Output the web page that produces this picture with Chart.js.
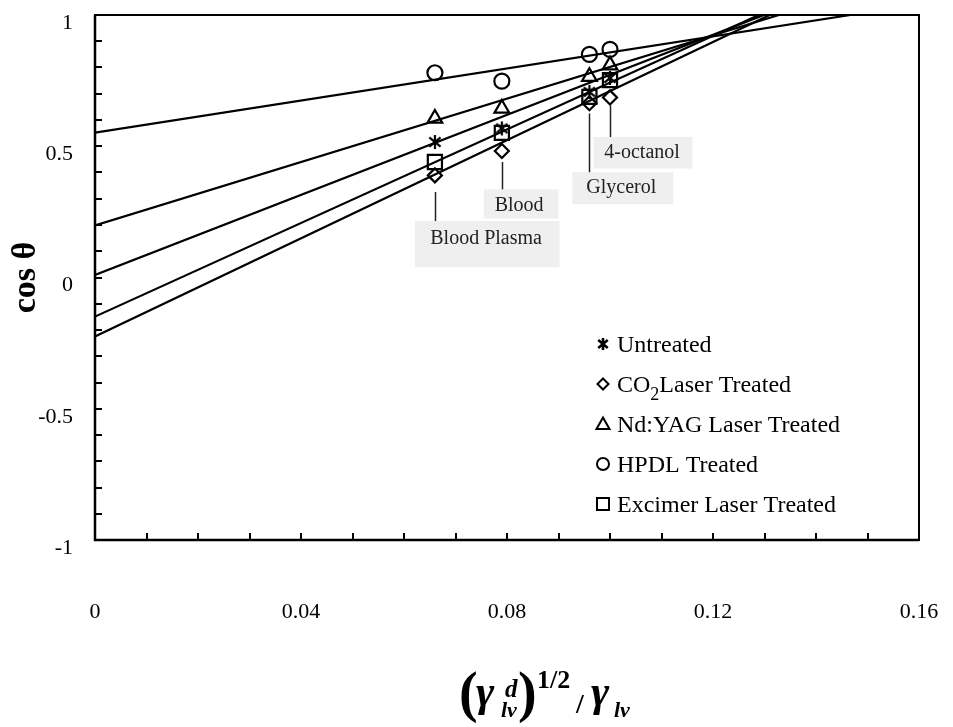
<!DOCTYPE html>
<html>
<head>
<meta charset="utf-8">
<script src="https://cdn.jsdelivr.net/npm/chart.js@4.4.0/dist/chart.umd.min.js"></script>
<style>
    html, body { margin: 0; padding: 0; background: #fff; }
    #wrap { position: relative; width: 953px; height: 727px; }
</style>
</head>
<body>
<div id="wrap"><canvas id="chart"></canvas></div>
<script>
// ── Datos ───────────────────────────────────────────────────────────────────

const liquids = ["Blood Plasma", "Blood", "Glycerol", "4-octanol"];
const liquidX = [0.066, 0.079, 0.096, 0.1];

const untreated = [0.516, 0.568, 0.707, 0.760];
const co2Laser  = [0.389, 0.482, 0.664, 0.686];
const ndYag     = [0.606, 0.644, 0.765, 0.809];
const hpdl      = [0.780, 0.748, 0.850, 0.869];
const excimer   = [0.440, 0.551, 0.688, 0.752];

// rectas de ajuste: corte con el eje y, y x donde salen por y = 1
const fitIntercept = [0.01, -0.225, 0.198, 0.552, -0.149];
const fitEndX      = [0.1299, 0.131, 0.1328, 0.1467, 0.1289];

const xTickLabels = ["0", "0.04", "0.08", "0.12", "0.16"];
const yTickLabels = ["-1", "-0.5", "0", "0.5", "1"];

const SERIF = "'Liberation Serif', 'Times New Roman', serif";

// ── Marcador asterisco ─────────────────────────────────────────────────────

function makeAsterisk(size, lw) {
    const c = document.createElement("canvas");
    c.width = size;
    c.height = size;
    const g = c.getContext("2d");
    const m = size / 2, r = size / 2 - 1;
    g.strokeStyle = "#000";
    g.lineWidth = lw;
    g.beginPath();
    g.moveTo(m, m - r); g.lineTo(m, m + r);
    g.moveTo(m - r * 0.8, m - r * 0.65); g.lineTo(m + r * 0.8, m + r * 0.65);
    g.moveTo(m - r * 0.8, m + r * 0.65); g.lineTo(m + r * 0.8, m - r * 0.65);
    g.stroke();
    return c;
}

const asteriskPoint = makeAsterisk(16, 2.2);
const asteriskLegend = makeAsterisk(14, 2.6);

const series = [
    { name: "Untreated",             values: untreated, style: asteriskPoint, radius: 7 },
    { name: "CO2 Laser Treated",     values: co2Laser,  style: "rectRot",     radius: 7 },
    { name: "Nd:YAG Laser Treated",  values: ndYag,     style: "triangle",    radius: 8.5 },
    { name: "HPDL Treated",          values: hpdl,      style: "circle",      radius: 7.5 },
    { name: "Excimer Laser Treated", values: excimer,   style: "rect",        radius: 10 },
];

const datasets = [];
series.forEach((s, i) => {
    datasets.push({
        label: s.name,
        type: "line",
        data: [{ x: 0, y: fitIntercept[i] }, { x: fitEndX[i], y: 1 }],
        borderColor: "#000",
        borderWidth: 2.2,
        pointRadius: 0,
        fill: false,
        tension: 0,
    });
    datasets.push({
        label: s.name,
        data: liquidX.map((x, k) => ({ x: x, y: s.values[k] })),
        showLine: false,
        pointStyle: s.style,
        pointRadius: s.radius,
        borderColor: "#000",
        borderWidth: 2.2,
        backgroundColor: "rgba(0,0,0,0)",
    });
});

// ── Anotaciones de los líquidos (coordenadas en unidades de datos) ──────────

const notes = [
    { at: 0, lead: [0.326, 0.215], box: [0.0621, 0.0902, 0.215, 0.039], text: [0.0651, 0.126] },
    { at: 1, lead: [0.440, 0.336], box: [0.0755, 0.0900, 0.336, 0.225], text: [0.0776, 0.252] },
    { at: 2, lead: [0.625, 0.401], box: [0.0927, 0.1123, 0.401, 0.279], text: [0.0954, 0.321] },
    { at: 3, lead: [0.656, 0.535], box: [0.0968, 0.1160, 0.535, 0.415], text: [0.0989, 0.454] },
];

const notesPlugin = {
    id: "notes",
    afterDatasetsDraw(chart) {
        const { ctx, scales: { x, y } } = chart;
        ctx.save();
        notes.forEach((n) => {
            const bx0 = x.getPixelForValue(n.box[0]), bx1 = x.getPixelForValue(n.box[1]);
            const by0 = y.getPixelForValue(n.box[2]), by1 = y.getPixelForValue(n.box[3]);
            ctx.fillStyle = "#efefef";
            ctx.fillRect(bx0, by0, bx1 - bx0, by1 - by0);
            const lx = Math.round(x.getPixelForValue(liquidX[n.at])) + 0.5;
            ctx.strokeStyle = "#222";
            ctx.lineWidth = 1.5;
            ctx.beginPath();
            ctx.moveTo(lx, y.getPixelForValue(n.lead[0]));
            ctx.lineTo(lx, y.getPixelForValue(n.lead[1]));
            ctx.stroke();
            ctx.fillStyle = "#222";
            ctx.font = "20px " + SERIF;
            ctx.textAlign = "left";
            ctx.textBaseline = "alphabetic";
            ctx.fillText(liquids[n.at], x.getPixelForValue(n.text[0]), y.getPixelForValue(n.text[1]));
        });
        ctx.restore();
    },
};

// ── Marco, marcas menores, leyenda y título del eje x ──────────────────────

function legendMarker(ctx, kind, cx, cy) {
    ctx.beginPath();
    if (kind === "circle") {
        ctx.arc(cx, cy, 6, 0, Math.PI * 2);
    } else if (kind === "rect") {
        ctx.rect(cx - 6, cy - 6, 12, 12);
    } else if (kind === "rectRot") {
        ctx.moveTo(cx, cy - 5.5); ctx.lineTo(cx + 5.5, cy);
        ctx.lineTo(cx, cy + 5.5); ctx.lineTo(cx - 5.5, cy);
        ctx.closePath();
    } else if (kind === "triangle") {
        ctx.moveTo(cx, cy - 6.5); ctx.lineTo(cx + 6.5, cy + 5);
        ctx.lineTo(cx - 6.5, cy + 5);
        ctx.closePath();
    }
    ctx.stroke();
}

const framePlugin = {
    id: "frame",
    afterDraw(chart) {
        const { ctx, chartArea: a, scales: { x, y } } = chart;
        ctx.save();
        ctx.strokeStyle = "#000";

        // marcas menores hacia dentro
        ctx.lineWidth = 2;
        ctx.beginPath();
        for (let i = 0; i <= 16; i++) {
            const px = Math.round(x.getPixelForValue(x.min + i * 0.01));
            ctx.moveTo(px, a.bottom);
            ctx.lineTo(px, a.bottom - 7);
        }
        for (let i = 0; i <= 20; i++) {
            const py = Math.round(y.getPixelForValue(y.min + i * 0.1));
            ctx.moveTo(a.left, py);
            ctx.lineTo(a.left + 7, py);
        }
        ctx.stroke();

        // marco
        ctx.lineWidth = 2;
        ctx.strokeRect(a.left, a.top, a.right - a.left, a.bottom - a.top);
        ctx.lineWidth = 2.5;
        ctx.beginPath();
        ctx.moveTo(a.left, a.top);
        ctx.lineTo(a.left, a.bottom);
        ctx.lineTo(a.right, a.bottom);
        ctx.stroke();

        // leyenda
        ctx.fillStyle = "#000";
        ctx.textAlign = "left";
        ctx.textBaseline = "alphabetic";
        series.forEach((s, i) => {
            const base = 352 + i * 40;
            const mx = 603, my = base - 8;
            ctx.lineWidth = 2;
            if (typeof s.style === "string") {
                legendMarker(ctx, s.style, mx, my);
            } else {
                ctx.drawImage(asteriskLegend, mx - 7, my - 7);
            }
            ctx.font = "24px " + SERIF;
            if (s.name.startsWith("CO2")) {
                ctx.fillText("CO", 617, base);
                let w = ctx.measureText("CO").width;
                ctx.font = "18px " + SERIF;
                ctx.fillText("2", 617 + w, base + 8);
                w += ctx.measureText("2").width;
                ctx.font = "24px " + SERIF;
                ctx.fillText("Laser Treated", 617 + w, base);
            } else {
                ctx.fillText(s.name, 617, base);
            }
        });

        // título del eje x: (γ_lv^d)^(1/2) / γ_lv
        const parts = [
            ["(",   "bold 56px ",        459, 711],
            ["γ",   "bold italic 44px ", 476, 706],
            ["d",   "bold italic 25px ", 505, 697],
            ["lv",  "bold italic 22px ", 501, 717],
            [")",   "bold 56px ",        518, 711],
            ["1/2", "bold 26px ",        537, 688],
            ["/",   "bold 28px ",        576, 713],
            ["γ",   "bold italic 44px ", 591, 706],
            ["lv",  "bold italic 22px ", 614, 717],
        ];
        parts.forEach(([t, f, px, py]) => {
            ctx.font = f + SERIF;
            ctx.fillText(t, px, py);
        });
        ctx.restore();
    },
};

new Chart(document.getElementById("chart"), {
    type: "scatter",
    data: { datasets: datasets },
    options: {
        responsive: true,
        maintainAspectRatio: false,
        animation: false,
        events: [],
        layout: { padding: { top: 15, right: 34, left: 0, bottom: 0 } },
        plugins: {
            legend: { display: false },
            tooltip: { enabled: false },
        },
        scales: {
            x: {
                type: "linear",
                min: 0,
                max: 0.16,
                grid: { display: false, drawTicks: false },
                border: { display: false },
                afterFit: (s) => {
                    s.height = 187;
                    s.paddingLeft = 0;
                    s.paddingRight = 0;
                },
                ticks: {
                    stepSize: 0.04,
                    autoSkip: false,
                    maxRotation: 0,
                    padding: 59,
                    color: "#000",
                    font: { family: SERIF, size: 22 },
                    callback: (value, index) => xTickLabels[index],
                },
            },
            y: {
                type: "linear",
                min: -1,
                max: 1,
                grid: { display: false, drawTicks: false },
                border: { display: false },
                afterFit: (s) => {
                    s.width = 95;
                    s.paddingTop = 0;
                    s.paddingBottom = 0;
                },
                ticks: {
                    stepSize: 0.5,
                    autoSkip: false,
                    padding: 22,
                    labelOffset: 8,
                    color: "#000",
                    font: { family: SERIF, size: 22 },
                    callback: (value, index) => yTickLabels[index],
                },
                title: {
                    display: true,
                    text: "cos θ",
                    color: "#000",
                    font: { family: SERIF, size: 34, weight: "bold" },
                    padding: { top: 6, bottom: 0 },
                },
            },
        },
    },
    plugins: [notesPlugin, framePlugin],
});
</script>
</body>
</html>
